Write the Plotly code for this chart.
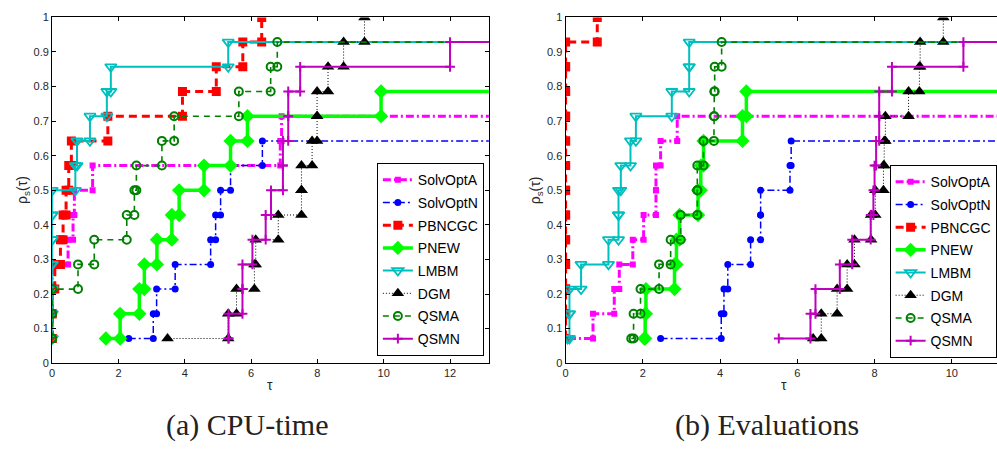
import plotly.graph_objects as go

N_PROBLEMS = 14
solvers = ["SolvOptA", "SolvOptN", "PBNCGC", "PNEW", "LMBM", "DGM", "QSMA", "QSMN"]

# log2 performance ratios (tau) of the solved problems, sorted; unsolved problems are omitted
# (a) CPU-time
cpu_solvoptA = [0, 0, 0, 0, 0.48, 0.63, 0.67, 1.22, 6.88, 6.92]
cpu_solvoptN = [2.31, 3.05, 3.15, 3.71, 4.78, 4.93, 5.08, 5.38, 6.34]
cpu_pbncgc = [0, 0, 0, 0.08, 0.25, 0.33, 0.42, 0.5, 0.58, 1.68, 3.93, 4.95, 5.75, 6.32]
cpu_pnew = [1.62, 2.05, 2.63, 2.78, 3.16, 3.61, 3.83, 4.58, 5.38, 5.89, 9.92]
cpu_lmbm = [0, 0, 0, 0, 0, 0, 0, 0.7, 0.75, 1.14, 1.65, 1.77, 5.31]
cpu_dgm = [3.48, 5.31, 5.56, 6.1, 6.14, 6.82, 7.52, 7.52, 7.84, 7.99, 7.99, 8.32, 8.79, 9.42]
cpu_qsma = [0, 0, 0, 0.78, 1.27, 2.25, 2.48, 2.54, 3.31, 3.68, 5.63, 6.59, 6.79]
cpu_qsmn = [5.32, 5.32, 5.74, 5.74, 6.04, 6.44, 6.6, 6.96, 6.96, 7.12, 7.12, 7.48, 12.0]

# (b) Evaluations
ev_solvoptA = [0.06, 0.71, 1.26, 1.39, 1.74, 2.02, 2.34, 2.34, 2.46, 2.89]
ev_solvoptN = [2.46, 4.03, 4.1, 4.2, 4.79, 5.05, 5.05, 5.81, 5.84]
ev_pbncgc = [0, 0, 0, 0, 0, 0, 0, 0, 0, 0, 0, 0, 0, 0.82]
ev_pnew = [2.04, 2.06, 2.08, 2.82, 2.87, 2.95, 3.43, 3.5, 3.57, 4.58, 4.68]
ev_lmbm = [0.05, 0.1, 0.1, 0.4, 1.11, 1.37, 1.37, 1.43, 1.68, 1.82, 2.75, 3.2, 3.2]
ev_dgm = [6.41, 6.62, 7.03, 7.29, 7.48, 7.91, 8.02, 8.23, 8.25, 8.28, 8.88, 9.16, 9.18, 9.78]
ev_qsma = [1.7, 1.76, 1.94, 2.42, 2.72, 2.98, 3.41, 3.41, 3.57, 3.84, 3.85, 3.86, 4.04]
ev_qsmn = [5.52, 6.34, 6.47, 7.1, 7.42, 7.9, 7.97, 8.0, 8.04, 8.12, 8.12, 8.45, 10.3]

cpu_data = [cpu_solvoptA, cpu_solvoptN, cpu_pbncgc, cpu_pnew, cpu_lmbm, cpu_dgm, cpu_qsma, cpu_qsmn]
ev_data = [ev_solvoptA, ev_solvoptN, ev_pbncgc, ev_pnew, ev_lmbm, ev_dgm, ev_qsma, ev_qsmn]

cpu_xmax = 13.17
ev_xmax = 11.17
x_ticks_cpu = [0, 2, 4, 6, 8, 10, 12]
x_ticks_ev = [0, 2, 4, 6, 8, 10]
y_ticks = [0, 0.1, 0.2, 0.3, 0.4, 0.5, 0.6, 0.7, 0.8, 0.9, 1]
y_ticklabels = ["0", "0.1", "0.2", "0.3", "0.4", "0.5", "0.6", "0.7", "0.8", "0.9", "1"]

styles = {
    "SolvOptA": dict(color="#FF00FF", width=3, dash="8px,3px,2px,3px",
                     marker=dict(symbol="square", size=6, color="#FF00FF")),
    "SolvOptN": dict(color="#0000FF", width=1.5, dash="7px,3px,2px,3px",
                     marker=dict(symbol="circle", size=7, color="#0000FF")),
    "PBNCGC": dict(color="#FF0000", width=3, dash="8px,5px",
                   marker=dict(symbol="square", size=9, color="#FF0000")),
    "PNEW": dict(color="#00FF00", width=3.5, dash="solid",
                 marker=dict(symbol="diamond", size=11, color="#00FF00")),
    "LMBM": dict(color="#00BFBF", width=2, dash="solid",
                 marker=dict(symbol="triangle-down-open", size=10, color="#00BFBF",
                             line=dict(width=1.8, color="#00BFBF"))),
    "DGM": dict(color="#000000", width=1, dash="1px,2px",
                marker=dict(symbol="triangle-up", size=11, color="#000000")),
    "QSMA": dict(color="#008000", width=1.6, dash="6px,5px",
                 marker=dict(symbol="circle-open", size=8, color="#008000",
                             line=dict(width=2, color="#008000"))),
    "QSMN": dict(color="#BF00BF", width=2, dash="solid",
                 marker=dict(symbol="cross-thin-open", size=7, color="#BF00BF",
                             line=dict(width=2, color="#BF00BF"))),
}


def stairs(taus, x_fail):
    vals = list(taus) + [x_fail] * (N_PROBLEMS - len(taus))
    xs, ys = [], []
    for i, v in enumerate(vals):
        level = (i + 1) / N_PROBLEMS
        if i > 0:
            xs.append(v)
            ys.append(ys[-1])
        xs.append(v)
        ys.append(level)
    return xs, ys


fig = go.Figure()

for panel, data, xa, ya, leg in [("a", cpu_data, "x", "y", "legend"), ("b", ev_data, "x2", "y2", "legend2")]:
    x_fail = 2 * max(max(d) for d in data)
    for name, taus in zip(solvers, data):
        st = styles[name]
        xs, ys = stairs(taus, x_fail)
        fig.add_trace(go.Scatter(
            x=xs, y=ys, mode="lines+markers", name=name,
            line=dict(color=st["color"], width=st["width"], dash=st["dash"]),
            marker=st["marker"], xaxis=xa, yaxis=ya, legend=leg,
            legendgroup=panel + name, showlegend=True))

tick_font = dict(family="Liberation Sans, Arial, sans-serif", size=11, color="#262626")
common_x = dict(showgrid=False, zeroline=False, showline=True, linecolor="black", linewidth=1.2,
                ticks="inside", ticklen=4, tickcolor="black", tickfont=tick_font)
common_y = dict(showgrid=False, zeroline=False, showline=True, linecolor="black", linewidth=1.2,
                ticks="inside", ticklen=4, tickcolor="black", tickfont=tick_font,
                range=[0, 1], tickvals=y_ticks, ticktext=y_ticklabels)

legend_font = dict(family="Liberation Sans, Arial, sans-serif", size=14, color="black")
y_dom = [(449 - 367.0) / 449, (449 - 11.7) / 449]
fig.update_layout(
    width=997, height=449, autosize=False,
    margin=dict(l=0, r=0, t=0, b=0),
    paper_bgcolor="white", plot_bgcolor="white",
    xaxis=dict(domain=[49.3 / 997, 487.3 / 997], range=[0, cpu_xmax], tickvals=x_ticks_cpu,
               mirror="ticks", anchor="y", **common_x),
    yaxis=dict(domain=y_dom, mirror="ticks", anchor="x", **common_y),
    xaxis2=dict(domain=[564.3 / 997, 1.0], range=[0, ev_xmax], tickvals=x_ticks_ev,
                mirror="ticks", anchor="y2", **common_x),
    yaxis2=dict(domain=y_dom, mirror=False, anchor="x2", **common_y),
    legend=dict(x=375 / 997, y=(449 - 161.5) / 449, xanchor="left", yanchor="top",
                bgcolor="white", bordercolor="black", borderwidth=1, font=legend_font,
                tracegroupgap=1.5, traceorder="grouped", itemwidth=30),
    legend2=dict(x=889.3 / 997, y=(449 - 163.5) / 449, xanchor="left", yanchor="top",
                 bgcolor="white", bordercolor="black", borderwidth=1, font=legend_font,
                 tracegroupgap=1.5, traceorder="grouped", itemwidth=30),
    showlegend=True,
)

label_font = dict(family="Liberation Sans, Arial, sans-serif", size=14, color="#262626")
caption_font = dict(family="Liberation Serif, Times New Roman, serif", size=30, color="#222222")


def note(text, px, py, font, angle=0):
    return dict(text=text, x=px / 997, y=(449 - py) / 449, xref="paper", yref="paper",
                xanchor="center", yanchor="middle", showarrow=False, textangle=angle, font=font)


annotations = [
    note("τ", 268, 389, label_font),
    note("τ", 783, 389, label_font),
    note("ρ<sub>s</sub>(τ)", 20, 189, label_font, -90),
    note("ρ<sub>s</sub>(τ)", 535, 189, label_font, -90),
    note("(a) CPU-time", 245, 430, caption_font),
    note("(b) Evaluations", 766, 430, caption_font),
]
fig.update_layout(annotations=annotations)

fig.write_html("out.html")
